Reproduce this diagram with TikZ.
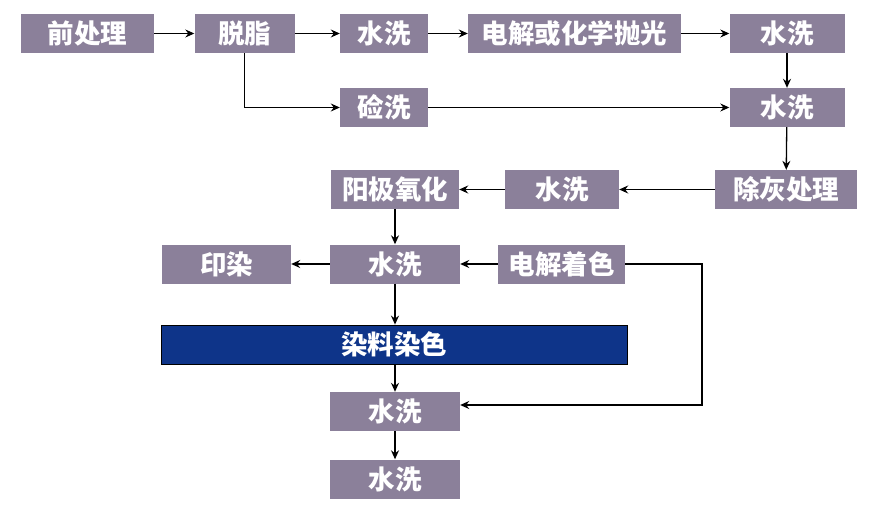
\documentclass[tikz,border=0pt]{standalone}
\usepackage{fontspec}
\newfontfamily\cjk{Noto Sans CJK SC}
\usetikzlibrary{arrows.meta}
\definecolor{boxgray}{RGB}{139,128,154}
\definecolor{dyeblue}{RGB}{14,52,137}
\tikzset{
  stepbox/.style={fill=boxgray, text=white, inner sep=0pt, minimum height=39pt,
    font=\cjk\bfseries\fontsize{26.5}{30}\selectfont},
  dyebox/.style={stepbox, fill=dyeblue, draw=black, line width=0.8pt},
  flow/.style={draw=black, line width=1.3pt, -{Stealth[length=9pt,width=8pt,inset=3pt]}}
}
\begin{document}
\begin{tikzpicture}[x=1pt,y=-1pt]
\useasboundingbox (0,0) rectangle (880,511);
% top row
\node[stepbox, minimum width=133pt] (pre) at (87.5,33.5) {前处理};
\node[stepbox, minimum width=100pt] (tz) at (244.5,33.5) {脱脂};
\node[stepbox, minimum width=88pt] (sx1) at (384,33.5) {水洗};
\node[stepbox, minimum width=213pt] (pg) at (574.5,33.5) {电解或化学抛光};
\node[stepbox, minimum width=115pt] (sx2) at (787,33.5) {水洗};
% second row
\node[stepbox, minimum width=88pt] (jx) at (384,107.5) {硷洗};
\node[stepbox, minimum width=115pt] (sx3) at (787,107.5) {水洗};
% third row
\node[stepbox, minimum width=142pt] (chc) at (786,189.5) {除灰处理};
\node[stepbox, minimum width=114pt] (sx4) at (562,189.5) {水洗};
\node[stepbox, minimum width=128pt] (yj) at (395,189.5) {阳极氧化};
% fourth row
\node[stepbox, minimum width=129pt] (yr) at (226.5,264) {印染};
\node[stepbox, minimum width=130pt] (sx5) at (395,264) {水洗};
\node[stepbox, minimum width=127pt] (ddzs) at (561.5,264) {电解着色};
% dye row
\node[dyebox, minimum width=466pt] (rl) at (394,344.5) {染料染色};
% bottom
\node[stepbox, minimum width=130pt] (sx6) at (395,411.5) {水洗};
\node[stepbox, minimum width=130pt] (sx7) at (395,479) {水洗};
\coordinate (c1) at (702,405);
% connectors
\draw[flow] (pre) -- (tz);
\draw[flow] (tz) -- (sx1);
\draw[flow] (sx1) -- (pg);
\draw[flow] (pg) -- (sx2);
\draw[flow] (sx2) -- (sx3);
\draw[flow] (tz.south) |- (jx.west);
\draw[flow] (jx) -- (sx3);
\draw[flow] (sx3) -- (chc);
\draw[flow] (chc) -- (sx4);
\draw[flow] (sx4) -- (yj);
\draw[flow] (yj) -- (sx5);
\draw[flow] (ddzs) -- (sx5);
\draw[flow] (sx5) -- (yr);
\draw[flow] (sx5) -- (sx5 |- rl.north);
\draw[flow] (rl.south -| sx6) -- (sx6);
\draw[flow] (sx6) -- (sx7);
\draw[flow] (ddzs.east) -| (c1) -- (sx6.east |- c1);
\end{tikzpicture}
\end{document}
